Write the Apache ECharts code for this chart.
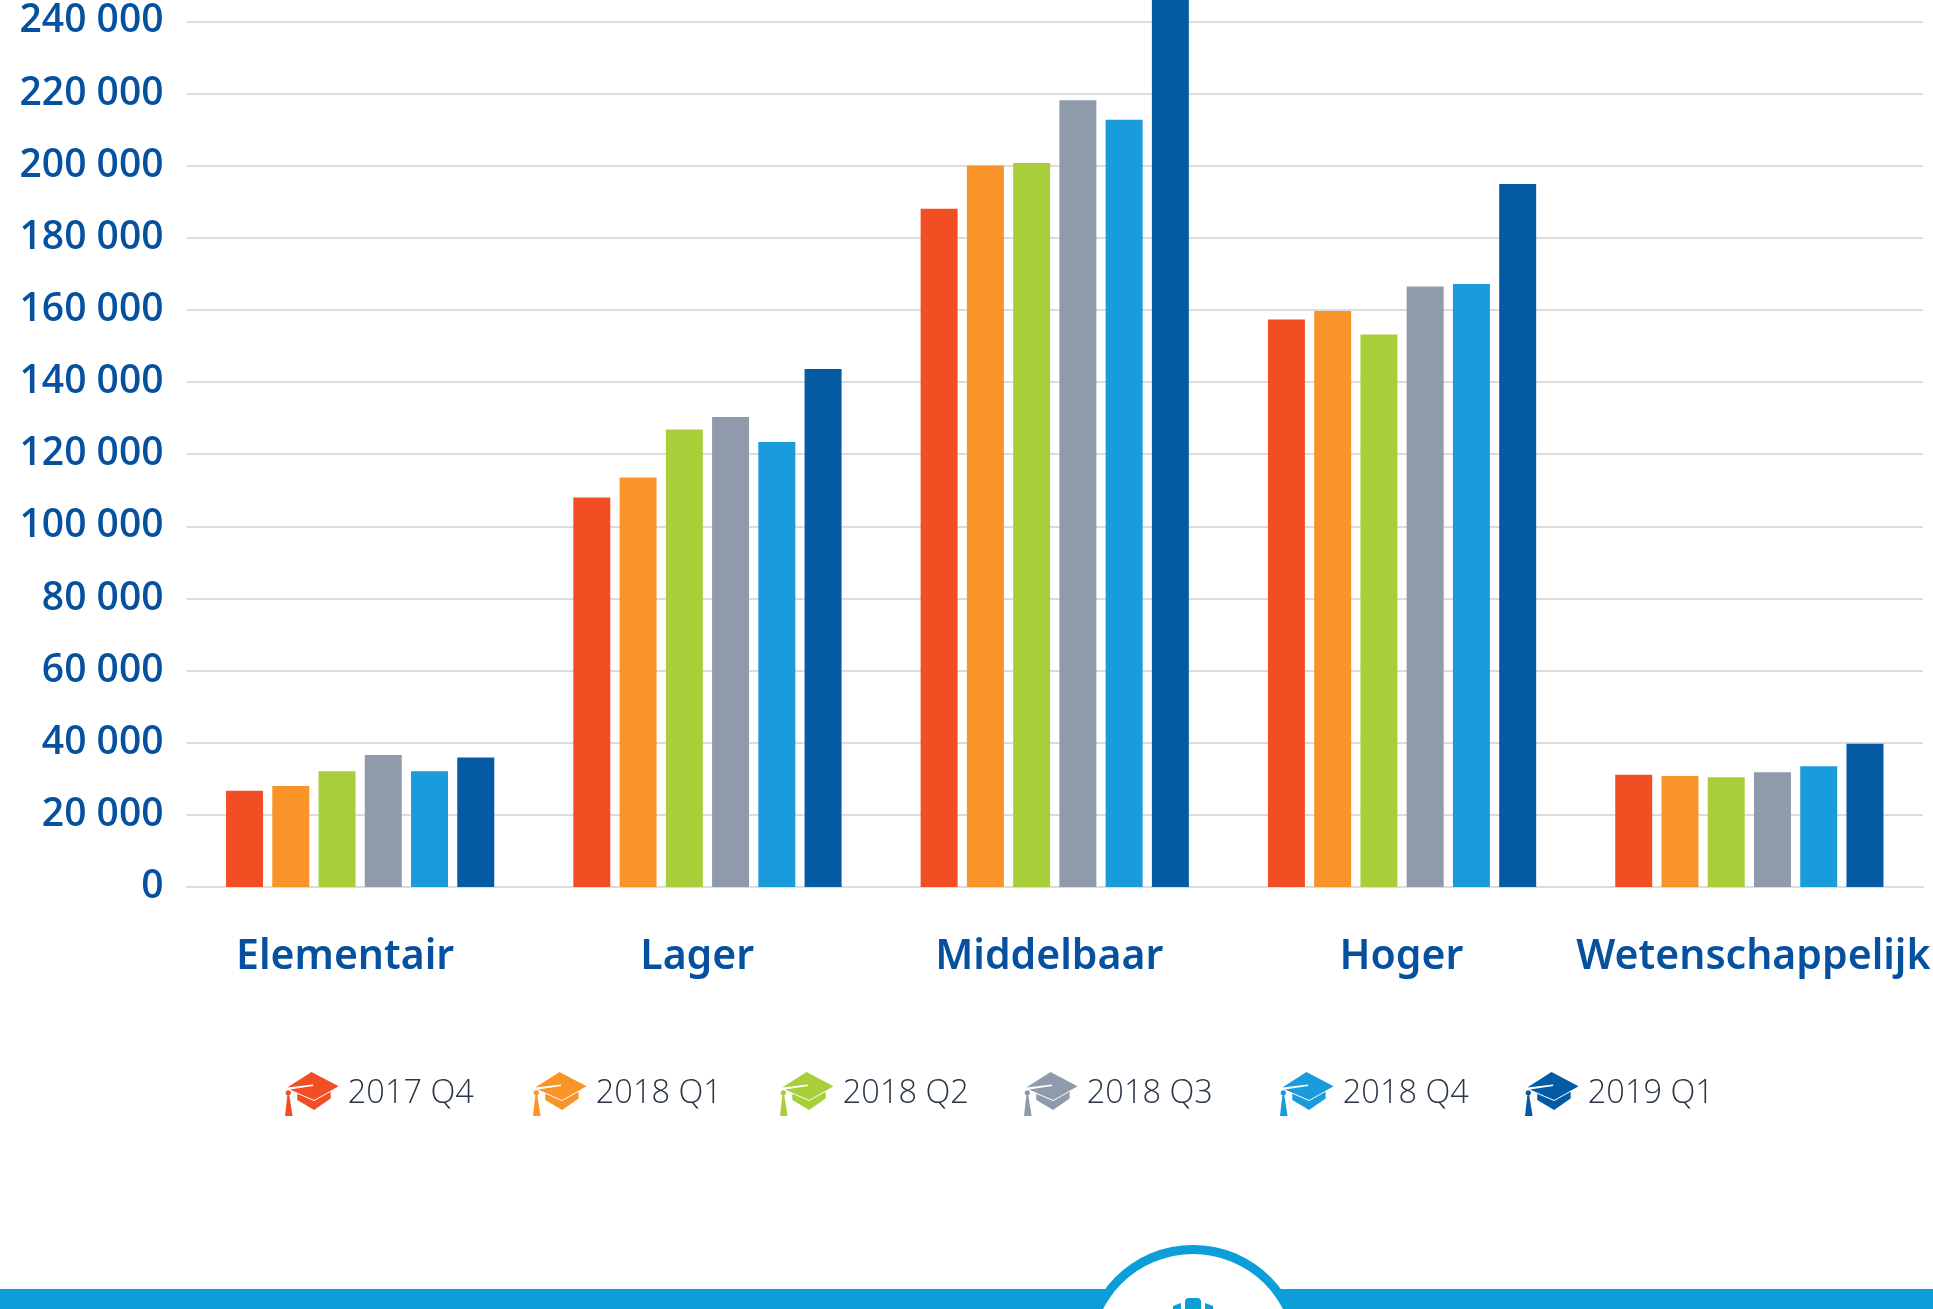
<!DOCTYPE html>
<html>
<head>
<meta charset="utf-8">
<title>Opleidingsniveau</title>
<style>
  html, body { margin: 0; padding: 0; background: #fff; }
  #chart { width: 1933px; height: 1309px; }
</style>
<script src="https://cdn.jsdelivr.net/npm/echarts@6/dist/echarts.min.js"></script>
</head>
<body>
<div id="chart"></div>
<script>
var categories = ['Elementair', 'Lager', 'Middelbaar', 'Hoger', 'Wetenschappelijk'];
var quarters = ['2017 Q4', '2018 Q1', '2018 Q2', '2018 Q3', '2018 Q4', '2019 Q1'];
var q2017q4 = [26700, 108000, 188000, 157300, 31100];
var q2018q1 = [28000, 113500, 200000, 159700, 30800];
var q2018q2 = [32100, 126800, 200700, 153200, 30400];
var q2018q3 = [36600, 130300, 218100, 166500, 31800];
var q2018q4 = [32100, 123400, 212700, 167200, 33500];
var q2019q1 = [35900, 143600, 250000, 194900, 39700];
var values = [q2017q4, q2018q1, q2018q2, q2018q3, q2018q4, q2019q1];
var colors = ['#f24e24', '#f99528', '#a8cf3a', '#8f9aab', '#1a9bdb', '#055ba3'];
var legendLeft = [285, 533, 780, 1024, 1280, 1525];

var labelBlue = '#05509f';
var bandBlue = '#0b9ed9';
// graduation cap used as legend marker
var capIcon = 'path://M155 95L237 138L163 180L90 148L160 137L160 133L82 142ZM112 161L163 183L213 155L213 175L163 210L112 180ZM85 150A8 8 0 1 1 85 166A8 8 0 1 1 85 150ZM82 166L88 166L98 228L75 228Z';

var chart = echarts.init(document.getElementById('chart'));

chart.setOption({
  animation: false,
  backgroundColor: '#fff',
  grid: [
    {left: 186.5, right: 10, top: 0, bottom: 422},
    // the category names sit on a slightly wider band than the bars
    {left: 169, width: 1766, height: 1, bottom: 422}
  ],
  xAxis: [
    {
      type: 'category',
      data: categories,
      gridIndex: 0,
      axisTick: {show: false},
      axisLabel: {show: false},
      axisLine: {lineStyle: {color: '#dcdcdc', width: 2}}
    },
    {
      type: 'category',
      data: categories,
      gridIndex: 1,
      axisTick: {show: false},
      axisLine: {show: false},
      axisLabel: {
        interval: 0,
        margin: 50,
        color: labelBlue,
        fontFamily: 'Noto Sans',
        fontWeight: 600,
        fontSize: 41
      }
    }
  ],
  yAxis: [
    {
      type: 'value',
      gridIndex: 0,
      min: 0,
      max: 245900, // the picture is cut off just above the 240 000 line
      interval: 20000,
      axisTick: {show: false},
      axisLine: {show: false},
      splitLine: {showMaxLine: false, lineStyle: {color: '#dcdcdc', width: 2}},
      axisLabel: {
        margin: 23,
        showMaxLabel: false,
        color: labelBlue,
        fontFamily: 'Open Sans',
        fontWeight: 600,
        fontSize: 39,
        formatter: function (v) {
          return String(v).replace(/\B(?=(\d{3})+$)/g, ' ');
        }
      }
    },
    {type: 'value', gridIndex: 1, show: false}
  ],
  legend: quarters.map(function (q, i) {
    return {
      data: [q],
      left: legendLeft[i],
      top: 1072,
      padding: 0,
      icon: capIcon,
      itemWidth: 54,
      itemHeight: 44,
      selectedMode: false,
      textStyle: {
        color: '#2a3646',
        fontFamily: 'Open Sans',
        fontWeight: 300,
        fontSize: 32.5,
        padding: [0, 0, 0, 4]
      }
    };
  }),
  series: quarters.map(function (q, i) {
    return {
      name: q,
      type: 'bar',
      xAxisIndex: 0,
      yAxisIndex: 0,
      barWidth: 37,
      barGap: '25%',
      itemStyle: {color: colors[i]},
      data: values[i]
    };
  }),
  graphic: [
    {type: 'rect', z: 1, shape: {x: 0, y: 1289, width: 1933, height: 20}, style: {fill: bandBlue}},
    {type: 'circle', z: 2, shape: {cx: 1193, cy: 1355, r: 110}, style: {fill: bandBlue}},
    {type: 'circle', z: 3, shape: {cx: 1193, cy: 1355, r: 101}, style: {fill: '#fff'}},
    {type: 'rect', z: 4, shape: {x: 1185, y: 1298, width: 16, height: 11, r: [4, 4, 0, 0]}, style: {fill: bandBlue}},
    {type: 'polygon', z: 4, shape: {points: [[1173, 1309], [1173, 1306], [1181, 1303], [1181, 1309]]}, style: {fill: bandBlue}},
    {type: 'polygon', z: 4, shape: {points: [[1205, 1303], [1213, 1306], [1213, 1309], [1205, 1309]]}, style: {fill: bandBlue}}
  ]
});
</script>
</body>
</html>
